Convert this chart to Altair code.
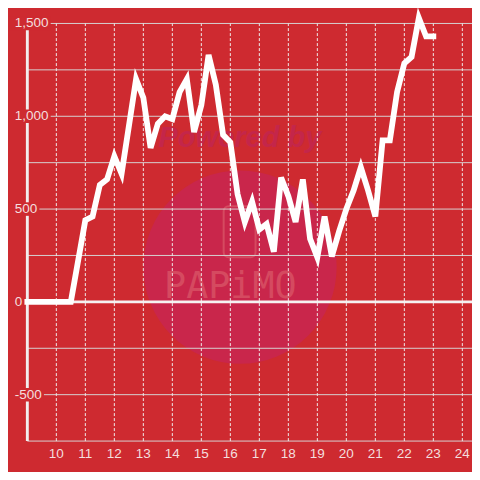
import altair as alt
import pandas as pd

# ---- data ----
hours = [9.0, 9.25, 9.5, 9.75, 10.0, 10.25, 10.5, 10.75, 11.0, 11.25, 11.5, 11.75,
         12.0, 12.25, 12.5, 12.75, 13.0, 13.25, 13.5, 13.75, 14.0, 14.25, 14.5, 14.75,
         15.0, 15.25, 15.5, 15.75, 16.0, 16.25, 16.5, 16.75, 17.0, 17.25, 17.5, 17.75,
         18.0, 18.25, 18.5, 18.75, 19.0, 19.25, 19.5, 19.75, 20.0, 20.25, 20.5, 20.75,
         21.0, 21.25, 21.5, 21.75, 22.0, 22.25, 22.5, 22.75, 23.0]
values = [0, 0, 0, 0, 0, 0, 0, 220, 440, 460, 630, 660,
          785, 690, 945, 1200, 1100, 830, 960, 1000, 985, 1130, 1200, 915,
          1060, 1330, 1170, 900, 860, 580, 430, 540, 390, 420, 270, 670,
          570, 430, 660, 340, 240, 460, 245, 380, 500, 600, 725, 600,
          460, 870, 870, 1130, 1285, 1320, 1530, 1430, 1430]
x_ticks = [10, 11, 12, 13, 14, 15, 16, 17, 18, 19, 20, 21, 22, 23, 24]
y_grid = [-750, -500, -250, 0, 250, 500, 750, 1000, 1250, 1500]
y_labels = ["-500", "0", "500", "1,000", "1,500"]
y_label_vals = [-500, 0, 500, 1000, 1500]

# ---- geometry (whole chart fits the page inside its 8px margin) ----
W = H = 464
S = W / 480.0                      # scale relative to the 480px reference
XMIN, XMAX = 8.3333, 24.3333
YMIN, YMAX = -916.667, 1583.333
PX_PER_HOUR = W / (XMAX - XMIN)
PX_PER_UNIT = H / (YMAX - YMIN)
X0 = 9.0

BG = "#ce2a30"
TXT = "#f4dede"
FS = 14 * S

xs = alt.Scale(domain=[XMIN, XMAX], nice=False, zero=False)
ys = alt.Scale(domain=[YMIN, YMAX], nice=False, zero=False)


def X(f):
    return alt.X(f, type="quantitative", scale=xs, axis=None)


def Y(f):
    return alt.Y(f, type="quantitative", scale=ys, axis=None)


line_df = pd.DataFrame({"h": hours, "v": values})
hgrid = pd.DataFrame({"y": y_grid, "x1": X0, "x2": XMAX})
vgrid = pd.DataFrame({"x": x_ticks, "y1": -750, "y2": 1500})

cw = {"-": 4.7, ",": 3.9}
lab_w = [sum(cw.get(c, 7.8) for c in s) * S for s in y_labels]
lab_x = XMIN + 7 * S / PX_PER_HOUR
ylab = pd.DataFrame({
    "label": y_labels, "v": y_label_vals,
    "x": lab_x,
    "mx1": XMIN,
    "mx2": [lab_x + (w + 2) / PX_PER_HOUR for w in lab_w],
    "my1": [v - 7 * S / PX_PER_UNIT for v in y_label_vals],
    "my2": [v + 7 * S / PX_PER_UNIT for v in y_label_vals],
})
xlab = pd.DataFrame({"x": x_ticks, "label": [str(t) for t in x_ticks], "y": -818})

# watermark
wm_circle = pd.DataFrame({"x": [16.333], "y": [187.5]})
wm_text1 = pd.DataFrame({"x": [16.33], "y": [885], "t": ["Powered by"]})
wm_text2 = pd.DataFrame({"x": [16.0], "y": [80], "t": ["PAPiMO"]})
wm_phone = pd.DataFrame({"x1": [15.77], "x2": [16.87], "y1": [240], "y2": [515]})

layers = [
    alt.Chart(wm_circle).mark_circle(size=(200 * S) ** 2, color="#c9264b", opacity=1).encode(
        x=X("x"), y=Y("y")),
    alt.Chart(wm_text1).mark_text(fontSize=30 * S, fontWeight="bold", fontStyle="italic",
                                  font="Liberation Sans", color="#c4264a").encode(
        x=X("x"), y=Y("y"), text="t:N"),
    alt.Chart(wm_phone).mark_rect(fill=None, stroke="#d54a60", strokeWidth=2, cornerRadius=5,
                                  fillOpacity=0).encode(x=X("x1"), x2="x2", y=Y("y1"), y2="y2"),
    alt.Chart(wm_text2).mark_text(fontSize=38 * S, font="DejaVu Sans Mono",
                                  color="#d54a60").encode(x=X("x"), y=Y("y"), text="t:N"),
    alt.Chart(hgrid).mark_rule(color="#d6d0d0", strokeWidth=1).encode(x=X("x1"), x2="x2", y=Y("y")),
    alt.Chart(vgrid).mark_rule(color="#f0e8e8", strokeWidth=1, strokeDash=[3, 2]).encode(
        x=X("x"), y=Y("y1"), y2="y2"),
    alt.Chart(pd.DataFrame({"x": [X0], "y1": [-750], "y2": [1500]})).mark_rule(
        color="#f2eeee", strokeWidth=3 * S).encode(x=X("x"), y=Y("y1"), y2="y2"),
    alt.Chart(pd.DataFrame({"x1": [X0], "x2": [XMAX], "y": [0]})).mark_rule(
        color="#f5f2f2", strokeWidth=3 * S).encode(x=X("x1"), x2="x2", y=Y("y")),
    alt.Chart(ylab).mark_rect(color=BG).encode(x=X("mx1"), x2="mx2", y=Y("my1"), y2="my2"),
    alt.Chart(ylab).mark_text(align="left", baseline="middle", fontSize=FS,
                              font="Liberation Sans", color=TXT).encode(
        x=X("x"), y=Y("v"), text="label:N"),
    alt.Chart(xlab).mark_text(align="center", baseline="middle", fontSize=FS,
                              font="Liberation Sans", color=TXT).encode(
        x=X("x"), y=Y("y"), text="label:N"),
    alt.Chart(line_df).mark_line(color="#ffffff", strokeWidth=6 * S, strokeCap="square",
                                 strokeJoin="miter").encode(x=X("h"), y=Y("v")),
]

chart = alt.layer(*layers).properties(
    width=W, height=H, autosize=alt.AutoSizeParams(type="none"), padding=0,
    background=BG,
).configure_view(stroke=None)

chart.save("out.html", embed_options={"renderer": "svg", "actions": False})
